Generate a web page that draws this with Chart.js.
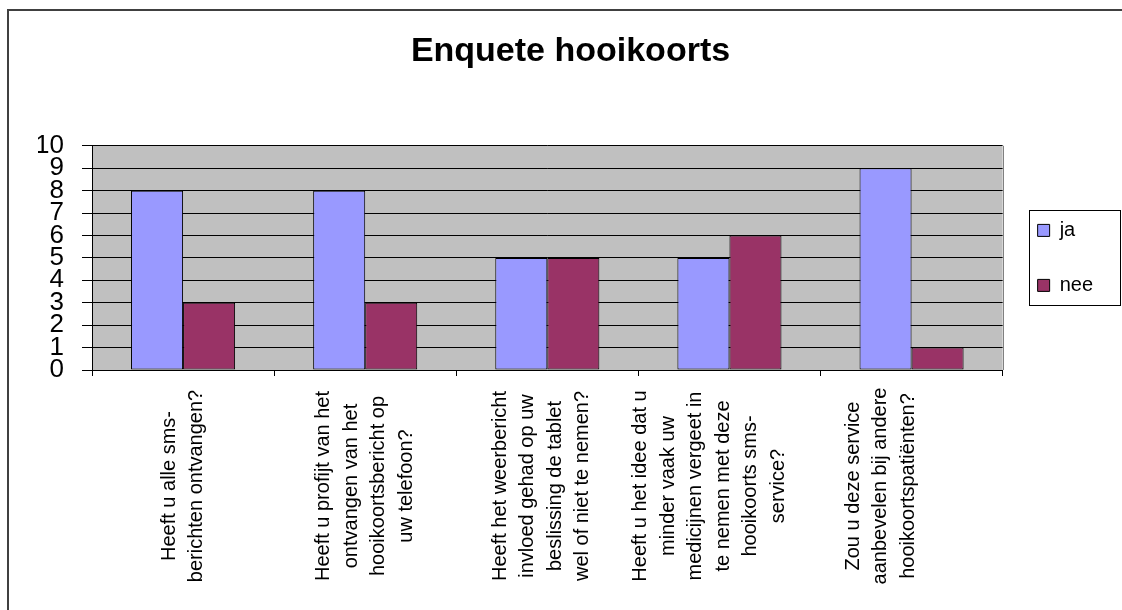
<!DOCTYPE html>
<html>
<head>
<meta charset="utf-8">
<title>Enquete hooikoorts</title>
<script src="https://cdn.jsdelivr.net/npm/chart.js@4.4.1/dist/chart.umd.min.js"></script>
<style>
  html, body { margin: 0; padding: 0; background: #fff; overflow: hidden; }
  canvas { display: block; }
</style>
</head>
<body>
<canvas id="survey-chart" width="1122" height="610"></canvas>
<script>
// Survey questions, already wrapped the way they appear under the axis
const questions = [
  ['Heeft u alle sms-', 'berichten ontvangen?'],
  ['Heeft u profijt van het', 'ontvangen van het', 'hooikoortsbericht op', 'uw telefoon?'],
  ['Heeft het weerbericht', 'invloed gehad op uw', 'beslissing de tablet', 'wel of niet te nemen?'],
  ['Heeft u het idee dat u', 'minder vaak uw', 'medicijnen vergeet in', 'te nemen met deze', 'hooikoorts sms-', 'service?'],
  ['Zou u deze service', 'aanbevelen bij andere', 'hooikoortspatiënten?']
];
const answersYes = [8, 8, 5, 5, 9];
const answersNo  = [3, 3, 5, 6, 1];
const countTicks = [0, 1, 2, 3, 4, 5, 6, 7, 8, 9, 10];

const FONT = '"Liberation Sans", Arial, sans-serif';
const labelNudge = [0, 0, -6, -20, -31];

/* ── Plugins ─────────────────────────────────────────────────── */

// grey plot area plus the left/top edge of the chart frame
const plotBackground = {
    id: 'plotBackground',
    beforeDraw(chart) {
        const { ctx, chartArea: a, width, height } = chart;
        ctx.save();
        ctx.fillStyle = '#C0C0C0';
        ctx.fillRect(a.left, a.top, a.right - a.left, a.bottom - a.top);
        ctx.strokeStyle = '#404040';
        ctx.lineWidth = 2;
        ctx.beginPath();
        ctx.moveTo(8, height);
        ctx.lineTo(8, 10);
        ctx.lineTo(width, 10);
        ctx.stroke();
        ctx.restore();
    },
    beforeDatasetsDraw(chart) {
        const { ctx, chartArea: a } = chart;
        ctx.save();
        ctx.strokeStyle = '#808080';
        ctx.lineWidth = 1;
        ctx.beginPath();
        ctx.moveTo(Math.round(a.right) + 0.5, a.top);
        ctx.lineTo(Math.round(a.right) + 0.5, a.bottom);
        ctx.stroke();
        ctx.restore();
    }
};

// vertical question labels, lines centred on each other
const questionLabels = {
    id: 'questionLabels',
    afterDraw(chart) {
        const { ctx } = chart;
        const x = chart.scales.x;
        ctx.save();
        ctx.font = '20px ' + FONT;
        ctx.fillStyle = '#000';
        ctx.textAlign = 'center';
        ctx.textBaseline = 'middle';
        questions.forEach((lines, i) => {
            ctx.save();
            ctx.translate(x.getPixelForValue(i) + labelNudge[i], 486);
            ctx.rotate(-Math.PI / 2);
            lines.forEach((line, j) => {
                ctx.fillText(line, 0, (j - (lines.length - 1) / 2) * 27.5);
            });
            ctx.restore();
        });
        ctx.restore();
    }
};

// box around the legend
const legendFrame = {
    id: 'legendFrame',
    afterDraw(chart) {
        const { ctx, legend, chartArea: a } = chart;
        if (!legend) return;
        const mid = Math.round((a.top + a.bottom) / 2);
        ctx.save();
        ctx.strokeStyle = '#000';
        ctx.lineWidth = 1;
        ctx.strokeRect(Math.round(legend.left) + 26.5, mid - 47.5, 91, 95);
        ctx.restore();
    }
};

/* ── Chart ───────────────────────────────────────────────────── */

new Chart(document.getElementById('survey-chart'), {
    type: 'bar',
    data: {
        labels: questions.map(q => q.join(' ')),
        datasets: [
            {
                label: 'ja',
                data: answersYes,
                backgroundColor: '#9999FF',
                borderColor: '#000',
                borderWidth: 1,
                borderSkipped: false
            },
            {
                label: 'nee',
                data: answersNo,
                backgroundColor: '#993366',
                borderColor: '#000',
                borderWidth: 1,
                borderSkipped: false
            }
        ]
    },
    options: {
        responsive: false,
        animation: false,
        layout: { padding: { left: 38, right: 19, top: 10, bottom: 0 } },
        datasets: {
            bar: { categoryPercentage: 2 / 3.5, barPercentage: 1 }
        },
        plugins: {
            title: {
                display: true,
                text: 'Enquete hooikoorts',
                color: '#000',
                font: { family: FONT, size: 34, weight: 'bold', lineHeight: 1.2 },
                padding: { top: 21, bottom: 74 }
            },
            legend: {
                position: 'right',
                fullSize: false,
                labels: {
                    color: '#000',
                    font: { family: FONT, size: 20 },
                    boxWidth: 12,
                    boxHeight: 12,
                    padding: 35
                }
            },
            tooltip: { enabled: false }
        },
        scales: {
            x: {
                grid: {
                    display: true,
                    offset: true,
                    drawOnChartArea: false,
                    drawTicks: true,
                    tickLength: 6,
                    color: '#000'
                },
                border: { display: true, color: '#000', width: 1 },
                ticks: { display: false },
                afterFit(scale) { scale.height = 240; }
            },
            y: {
                min: 0,
                max: 10,
                afterBuildTicks(scale) {
                    scale.ticks = countTicks.map(v => ({ value: v }));
                },
                grid: {
                    color: '#000',
                    lineWidth: 1,
                    drawTicks: true,
                    tickLength: 10
                },
                border: { display: true, color: '#000', width: 1 },
                ticks: {
                    autoSkip: false,
                    color: '#000',
                    padding: 18,
                    font: { family: FONT, size: 26, lineHeight: 1 }
                },
                afterFit(scale) { scale.width = 54; }
            }
        }
    },
    plugins: [plotBackground, questionLabels, legendFrame]
});
</script>
</body>
</html>
